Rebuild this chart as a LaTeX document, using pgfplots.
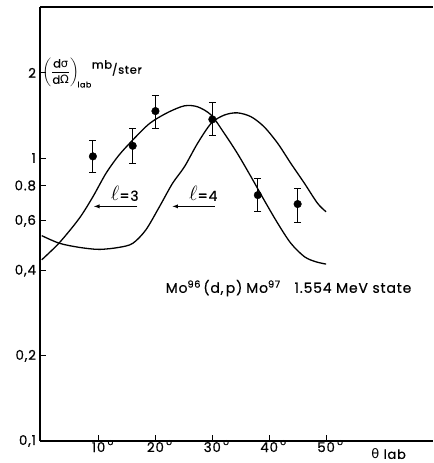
\documentclass[border=0pt]{standalone}
\usepackage{fontspec}
\setmainfont{Poppins}[FakeBold=0.5, LetterSpace=6]
\newfontfamily\dejavu{DejaVu Sans}
\usepackage{amsmath}
\usepackage{pgfplots}
\pgfplotsset{compat=1.18}
\newcommand{\dg}{\rlap{\,\raisebox{0.95ex}{\fontsize{9}{9}\selectfont o}}}
\begin{document}
\begin{tikzpicture}
\begin{axis}[
  scale only axis, width=393bp, height=434bp,
  ymode=log, xmin=-0.3, xmax=68.8, ymin=0.1, ymax=3.42,
  axis x line*=box, axis y line*=left,
  axis line style={-, line width=1.1pt},
  xtick pos=left, ytick pos=left, tick align=inside,
  major tick length=6bp, minor tick num=0,
  every tick/.style={black, line width=1pt},
  xtick={10,20,30,40,50},
  xticklabels={10\dg,20\dg,30\dg,40\dg,50\dg},
  ytick={0.1,0.2,0.4,0.6,0.8,1,2},
  yticklabels={{0,1},{0,2},{0,4},{0,6},{0.8},{1},{2}},
  tick label style={font=\fontsize{13.5}{15}\selectfont},
  xticklabel style={yshift=4.5bp},
  yticklabel style={xshift=-0.5bp},
  clip=false,
]
% l = 3 curve
\addplot[black, line width=1.3pt, smooth, tension=0.5] coordinates {
 (0,0.437) (3.1,0.502) (6.6,0.612) (9.0,0.730) (11.3,0.883) (13.6,1.025)
 (16.0,1.158) (18.3,1.290) (19.8,1.362) (22.4,1.457) (25.1,1.530)
 (27.4,1.518) (29.8,1.419) (32.1,1.223) (34.4,1.039) (36.8,0.859)
 (39.1,0.711) (41.5,0.588) (43.8,0.500) (46.2,0.448) (48.2,0.430) (50,0.422)
};
% l = 4 curve
\addplot[black, line width=1.3pt, smooth, tension=0.5] coordinates {
 (0,0.532) (3.1,0.500) (6.6,0.4835) (10.1,0.4756) (13.6,0.4835) (16.0,0.4995)
 (18.3,0.557) (20.7,0.673) (23.0,0.814) (25.1,0.932) (27.4,1.127)
 (29.8,1.327) (32.1,1.419) (34.4,1.445) (36.8,1.400) (39.1,1.290)
 (41.5,1.127) (43.8,0.958) (46.2,0.814) (48.5,0.692) (50,0.646)
};
% data with error bars
\addplot[black, only marks, mark=*, mark size=3.8bp,
  error bars/.cd, y dir=both, y explicit,
  error bar style={line width=1pt},
  error mark options={rotate=90, mark size=3.5bp, line width=1pt}]
 coordinates {
 (9,1.014)  += (0,0.137) -= (0,0.125)
 (16,1.105) += (0,0.171) -= (0,0.147)
 (20,1.466) += (0,0.200) -= (0,0.193)
 (30,1.370) += (0,0.203) -= (0,0.171)
 (38,0.740) += (0,0.108) -= (0,0.094)
 (45,0.688) += (0,0.093) -= (0,0.097)
};
% annotations
\draw[black, line width=0.9pt, -latex] (axis cs:16.8,0.675) -- (axis cs:9.2,0.675);
\draw[black, line width=0.9pt, -latex] (axis cs:30.4,0.675) -- (axis cs:23.0,0.675);
\node[anchor=base, font=\fontsize{14}{15}\selectfont] at (axis cs:14.6,0.706) {{\fontsize{20}{20}\selectfont$\ell$}=3};
\node[anchor=base, font=\fontsize{14}{15}\selectfont] at (axis cs:28.4,0.706) {{\fontsize{20}{20}\selectfont$\ell$}=4};
\node[anchor=base, font=\fontsize{14}{16}\selectfont] at (axis cs:43.4,0.334)
 {Mo\textsuperscript{96}\,(d,\,p)\;Mo\textsuperscript{97}\quad 1.554 MeV state};
\node[anchor=west, inner sep=0pt, font=\fontsize{11.5}{13}\selectfont] at (axis cs:0.1,2.0)
 {$\left(\dfrac{\text{d{\dejavu σ}}}{\text{d{\dejavu Ω}}}\right)_{\!\text{lab}}$\raisebox{1.1ex}{mb}\raisebox{0.3ex}{/ster}};
\node[font=\fontsize{13}{14}\selectfont] at (axis cs:61,0.1) [yshift=-13bp] {{\dejavu θ} lab};
\end{axis}
\pgfresetboundingbox
\path[use as bounding box] (-40bp,-22bp) rectangle (394bp,441bp);
\end{tikzpicture}
\end{document}
